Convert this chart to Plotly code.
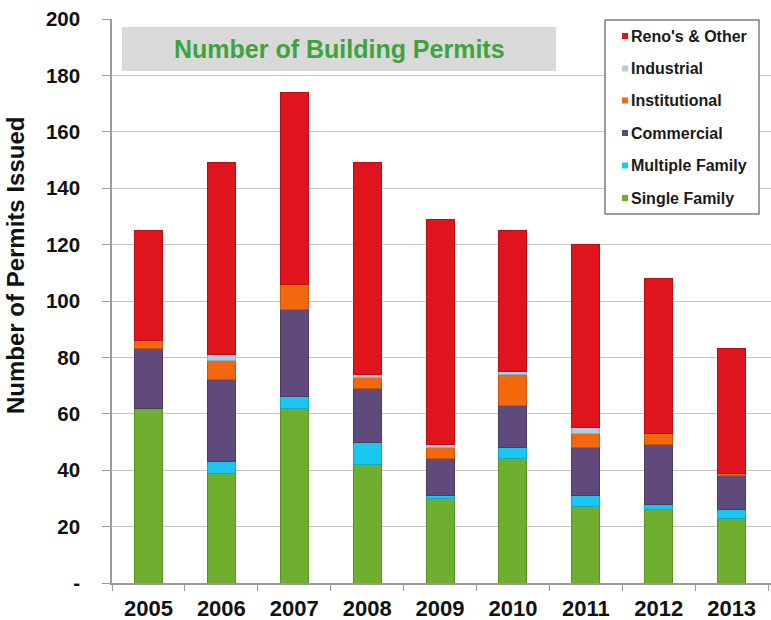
import plotly.graph_objects as go

# ---- data -------------------------------------------------------------
years = ["2005", "2006", "2007", "2008", "2009", "2010", "2011", "2012", "2013"]

single_family = [62, 39, 62, 42, 30, 44, 27, 26, 23]
multiple_family = [0, 4, 4, 8, 1, 4, 4, 2, 3]
commercial = [21, 29, 31, 19, 13, 15, 17, 21, 12]
institutional = [3, 7, 9, 4, 4, 11, 5, 4, 1]
industrial = [0, 2, 0, 1, 1, 1, 2, 0, 0]
renos_other = [39, 68, 68, 75, 80, 50, 65, 55, 44]

series_names = ["Single Family", "Multiple Family", "Commercial",
                "Institutional", "Industrial", "Reno's & Other"]

y_tick_values = [0, 20, 40, 60, 80, 100, 120, 140, 160, 180, 200]
y_tick_labels = ["-", "20", "40", "60", "80", "100", "120", "140", "160", "180", "200"]

# ---- styling ----------------------------------------------------------
colors = ["#6fae2e", "#1cc6f2", "#604a7b", "#f3680f", "#b4cbe4", "#e0141c"]
edge_colors = ["#5a9022", "#12a6cc", "#4c3a63", "#c9550a", "#95aec8", "#b80f15"]
series_values = [single_family, multiple_family, commercial,
                 institutional, industrial, renos_other]

FONT = "Liberation Sans, Arial, sans-serif"
W, H = 771, 620
ML, MR, MT, MB = 112, 0, 19, 37


def px(x):
    """Pixel column -> paper x."""
    return (x - ML) / (W - ML - MR)


def py(y):
    """Pixel row -> paper y."""
    return (H - MB - y) / (H - MT - MB)


fig = go.Figure()
for name, vals, col, edge in zip(series_names, series_values, colors, edge_colors):
    fig.add_bar(
        x=years, y=vals, name=name, showlegend=False,
        marker=dict(color=col, line=dict(color=edge, width=1)),
    )

shapes = []
annotations = []

# chart title on a grey band
shapes.append(dict(type="rect", xref="paper", yref="paper",
                   x0=px(122), x1=px(556), y0=py(71), y1=py(27),
                   fillcolor="#d9d9d9", line=dict(width=0), layer="above"))
annotations.append(dict(xref="paper", yref="paper", x=px(339), y=py(49),
                        text="Number of Building Permits", showarrow=False,
                        xanchor="center", yanchor="middle",
                        font=dict(family=FONT, size=25, color="#3da33d", weight="bold")))

# y-axis title
annotations.append(dict(xref="paper", yref="paper", x=px(15), y=py(266),
                        text="Number of Permits Issued", showarrow=False,
                        textangle=-90, xanchor="center", yanchor="middle",
                        font=dict(family=FONT, size=24, color="#111111", weight="bold")))

# key box (top series listed first)
shapes.append(dict(type="rect", xref="paper", yref="paper",
                   x0=px(605), x1=px(759), y0=py(214), y1=py(20),
                   fillcolor="white", line=dict(color="#7f7f7f", width=1.5),
                   layer="above"))
row_y = [36, 68.5, 100.5, 133, 165.5, 198]
for i, (name, col) in enumerate(zip(series_names[::-1], colors[::-1])):
    yc = row_y[i]
    shapes.append(dict(type="rect", xref="paper", yref="paper",
                       x0=px(622), x1=px(628), y0=py(yc + 3), y1=py(yc - 3),
                       fillcolor=col, line=dict(width=0), layer="above"))
    annotations.append(dict(xref="paper", yref="paper", x=px(629), y=py(yc),
                            text=name, showarrow=False,
                            xanchor="left", yanchor="middle",
                            font=dict(family=FONT, size=16, color="#1a1a1a", weight="bold")))

fig.update_layout(
    width=W, height=H,
    margin=dict(l=ML, r=MR, t=MT, b=MB, pad=0),
    barmode="stack", bargap=0.615,
    paper_bgcolor="white", plot_bgcolor="white",
    shapes=shapes, annotations=annotations,
    showlegend=False,
    xaxis=dict(
        type="category", range=[-0.5, 8.54],
        tickson="boundaries", ticks="outside", ticklen=6, tickcolor="#9a9a9a",
        showline=True, linecolor="#9a9a9a", linewidth=1.5,
        showgrid=False, ticklabelstandoff=5,
        tickfont=dict(family=FONT, size=22, color="#111111", weight="bold"),
    ),
    yaxis=dict(
        range=[0, 200], tickvals=y_tick_values, ticktext=y_tick_labels,
        ticks="outside", ticklen=8, tickcolor="#9a9a9a",
        showline=True, linecolor="#9a9a9a", linewidth=1.5,
        showgrid=True, gridcolor="#c6c6c6", gridwidth=1.3,
        zeroline=False, ticklabelstandoff=18,
        tickfont=dict(family=FONT, size=20.5, color="#111111", weight="bold"),
    ),
)

fig.write_html("out.html")
